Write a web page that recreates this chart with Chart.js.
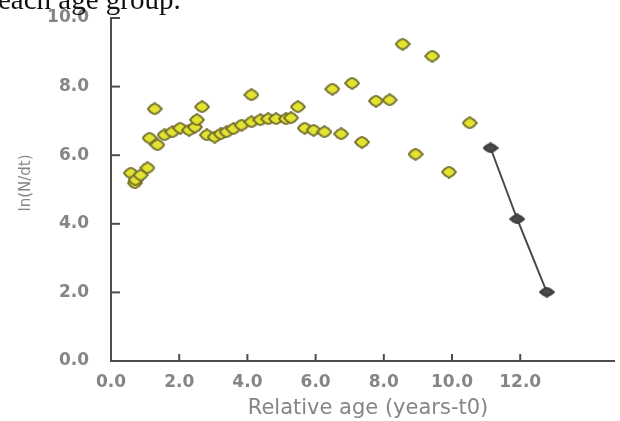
<!DOCTYPE html>
<html>
<head>
<meta charset="utf-8">
<script src="https://cdn.jsdelivr.net/npm/chart.js@4.4.1/dist/chart.umd.min.js"></script>
<style>
  html, body { margin: 0; padding: 0; background: #fff; overflow: hidden; }
  #wrap { position: relative; width: 620px; height: 421px; overflow: hidden; }
  #chart { position: absolute; left: 0; top: 0; }
  #caption { position: absolute; left: -2px; top: -15px; font: 29px/29px 'Liberation Serif', 'Times New Roman', serif; color: #111; white-space: nowrap; }
</style>
</head>
<body>
<div id="wrap">
  <canvas id="chart" width="620" height="421"></canvas>
  <div id="caption">each age group.</div>
</div>
<script>
'use strict';

// data
let xTicks = [0, 2, 4, 6, 8, 10, 12];
let yTicks = [0, 2, 4, 6, 8, 10];

let ageYellow = [0.58, 0.70, 0.72, 0.87, 1.07, 1.13, 1.28, 1.36, 1.57, 1.80, 2.03, 2.29, 2.46, 2.52, 2.67,
  2.81, 3.04, 3.22, 3.39, 3.59, 3.83, 4.12, 4.12, 4.38, 4.61, 4.84, 5.13, 5.28, 5.48, 5.68, 5.94,
  6.26, 6.49, 6.75, 7.07, 7.36, 7.77, 8.17, 8.55, 8.93, 9.42, 9.91, 10.52];
let lnYellow = [5.48, 5.19, 5.28, 5.42, 5.63, 6.50, 7.35, 6.30, 6.59, 6.68, 6.79, 6.73, 6.82, 7.03, 7.41,
  6.59, 6.53, 6.62, 6.68, 6.77, 6.88, 7.76, 6.97, 7.03, 7.06, 7.06, 7.06, 7.09, 7.41, 6.79, 6.73,
  6.68, 7.93, 6.62, 8.10, 6.38, 7.58, 7.61, 9.24, 6.03, 8.89, 5.51, 6.94];

let ageDark = [11.13, 11.91, 12.78];
let lnDark = [6.21, 4.14, 2.01];

let axisColor = '#4d4d4d';
let labelColor = '#858585';

function toPoints(xs, ys) {
  let pts = [];
  for (let i = 0; i < xs.length; i++) {
    pts.push({ x: xs[i], y: ys[i] });
  }
  return pts;
}

// rounded diamond marker drawn once on a small canvas
function makeMarker(w, h, fill, stroke) {
  let c = document.createElement('canvas');
  c.width = w;
  c.height = h;
  let g = c.getContext('2d');
  let cx = w / 2, cy = h / 2, rx = w / 2 - 1, ry = h / 2 - 1;
  g.beginPath();
  for (let i = 0; i < 8; i++) {
    let a = i * Math.PI / 4;
    let k = (i % 2 === 0) ? 1 : 0.82;
    let px = cx + Math.cos(a) * rx * k;
    let py = cy + Math.sin(a) * ry * k;
    if (i === 0) g.moveTo(px, py); else g.lineTo(px, py);
  }
  g.closePath();
  g.fillStyle = fill;
  g.fill();
  g.lineWidth = 1.8;
  g.strokeStyle = stroke;
  g.stroke();
  return c;
}

let yellowMarker = makeMarker(16, 13, '#e3e332', '#6f6a2c');
let darkMarker = makeMarker(16, 11, '#4a4a4a', '#3a3a3a');

// inward tick marks and axis titles
let axisExtras = {
  id: 'axisExtras',
  afterDraw(chart) {
    let ctx = chart.ctx;
    let xs = chart.scales.x;
    let ys = chart.scales.y;
    let area = chart.chartArea;
    ctx.save();
    ctx.strokeStyle = axisColor;
    ctx.lineWidth = 2;
    for (let i = 0; i < xTicks.length; i++) {
      if (xTicks[i] === 0) continue;
      let px = xs.getPixelForValue(xTicks[i]);
      ctx.beginPath();
      ctx.moveTo(px, area.bottom);
      ctx.lineTo(px, area.bottom - 7);
      ctx.stroke();
    }
    for (let i = 0; i < yTicks.length; i++) {
      if (yTicks[i] === 0) continue;
      let py = ys.getPixelForValue(yTicks[i]);
      ctx.beginPath();
      ctx.moveTo(area.left, py);
      ctx.lineTo(area.left + 9, py);
      ctx.stroke();
    }
    ctx.fillStyle = labelColor;
    ctx.textAlign = 'center';
    ctx.textBaseline = 'middle';
    ctx.font = '21px "DejaVu Sans"';
    ctx.fillText('Relative age (years-t0)', 368, 409);
    ctx.translate(26, 183);
    ctx.rotate(-Math.PI / 2);
    ctx.font = '15px "DejaVu Sans"';
    ctx.fillText('ln(N/dt)', 0, 0);
    ctx.restore();
  }
};

let chartConfig = {
  type: 'scatter',
  data: {
    datasets: [
      {
        label: 'yellow',
        data: toPoints(ageYellow, lnYellow),
        pointStyle: yellowMarker,
        showLine: false,
      },
      {
        label: 'dark',
        data: toPoints(ageDark, lnDark),
        pointStyle: darkMarker,
        showLine: true,
        borderColor: '#4a4a4a',
        borderWidth: 2,
      },
    ],
  },
  options: {
    responsive: false,
    animation: false,
    events: [],
    layout: {
      padding: { left: 40, top: 18, right: 0, bottom: 0 },
    },
    plugins: {
      legend: { display: false },
      tooltip: { enabled: false },
    },
    scales: {
      x: {
        type: 'linear',
        min: 0,
        max: 14.75,
        grid: { display: false },
        border: { display: true, color: axisColor, width: 2 },
        afterBuildTicks: (scale) => { scale.ticks = xTicks.map((v) => ({ value: v })); },
        afterFit: (scale) => { scale.height = 60; scale.paddingLeft = 0; scale.paddingRight = 0; },
        ticks: {
          color: labelColor,
          padding: 3,
          maxRotation: 0,
          font: { family: 'DejaVu Sans', size: 17, weight: 'bold' },
          callback: (v) => v.toFixed(1),
        },
      },
      y: {
        type: 'linear',
        min: 0,
        max: 10,
        grid: { display: false },
        border: { display: true, color: axisColor, width: 2 },
        afterBuildTicks: (scale) => { scale.ticks = yTicks.map((v) => ({ value: v })); },
        afterFit: (scale) => { scale.width = 71; scale.paddingTop = 0; scale.paddingBottom = 0; },
        ticks: {
          color: labelColor,
          padding: 14,
          font: { family: 'DejaVu Sans', size: 17, weight: 'bold' },
          callback: (v) => v.toFixed(1),
        },
      },
    },
  },
  plugins: [axisExtras],
};

let chart = new Chart(document.getElementById('chart'), chartConfig);
</script>
</body>
</html>
